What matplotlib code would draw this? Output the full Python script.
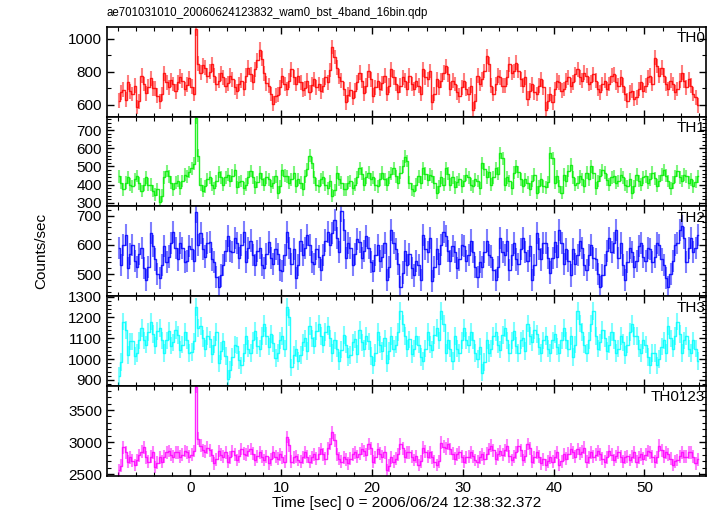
import numpy as np
import matplotlib
matplotlib.use('Agg')
import matplotlib.pyplot as plt
from matplotlib.ticker import MultipleLocator

plt.rcParams['font.family'] = ['Liberation Sans', 'DejaVu Sans']

# time bins (0.25 s), centre of first bin
t0 = -7.875
binw = 0.25

th0 = [625, 675, 690, 630, 735, 680, 665, 715,
       585, 620, 775, 725, 670, 710, 760, 700,
       700, 655, 620, 665, 790, 735, 705, 750,
       725, 680, 735, 770, 745, 695, 720, 760,
       710, 665, 1060, 850, 795, 840, 825, 775,
       800, 845, 775, 725, 745, 790, 765, 715,
       730, 775, 755, 705, 680, 725, 745, 695,
       775, 825, 785, 735, 815, 870, 935, 880,
       790, 730, 715, 665, 605, 655, 660, 705,
       775, 725, 695, 745, 815, 765, 725, 775,
       735, 690, 700, 745, 675, 720, 755, 705,
       725, 680, 715, 765, 735, 810, 950, 890,
       825, 770, 745, 695, 615, 660, 690, 640,
       685, 735, 795, 745, 670, 715, 805, 755,
       655, 705, 745, 695, 730, 775, 665, 715,
       815, 765, 725, 675, 715, 765, 745, 695,
       775, 725, 695, 745, 715, 665, 815, 765,
       755, 805, 615, 665, 755, 705, 745, 795,
       835, 785, 695, 745, 725, 675, 655, 705,
       745, 695, 665, 715, 570, 620, 775, 725,
       755, 805, 895, 845, 715, 665, 725, 775,
       765, 715, 715, 765, 845, 795, 805, 855,
       805, 755, 715, 765, 635, 685, 725, 675,
       665, 715, 755, 705, 570, 620, 665, 615,
       695, 745, 735, 685, 695, 745, 765, 715,
       735, 785, 815, 765, 745, 795, 775, 725,
       735, 785, 745, 695, 675, 725, 745, 695,
       725, 775, 785, 735, 715, 765, 715, 665,
       625, 675, 685, 635, 645, 695, 735, 685,
       715, 765, 775, 725, 885, 835, 775, 825,
       775, 725, 695, 745, 725, 675, 695, 745,
       795, 745, 705, 755, 715, 665, 645, 595]

th1 = [445, 410, 375, 410, 440, 400, 390, 430,
       448, 408, 365, 400, 440, 400, 400, 365,
       345, 375, 305, 340, 440, 475, 445, 410,
       375, 410, 420, 380, 420, 455, 445, 470,
       490, 515, 770, 560, 400, 365, 390, 430,
       440, 400, 380, 420, 470, 440, 400, 440,
       455, 420, 450, 480, 385, 415, 420, 380,
       400, 440, 475, 440, 385, 415, 465, 430,
       400, 440, 430, 390, 410, 445, 355, 390,
       480, 450, 445, 410, 430, 465, 390, 430,
       410, 375, 445, 485, 560, 520, 440, 400,
       390, 430, 440, 400, 380, 420, 340, 370,
       465, 430, 410, 375, 375, 410, 420, 380,
       400, 440, 490, 460, 400, 440, 465, 430,
       440, 400, 390, 430, 465, 430, 400, 440,
       460, 490, 445, 410, 465, 500, 555, 530,
       410, 375, 365, 400, 445, 410, 490, 460,
       425, 455, 445, 410, 355, 390, 440, 400,
       490, 460, 400, 440, 385, 415, 430, 390,
       420, 455, 440, 400, 390, 430, 420, 380,
       520, 485, 440, 470, 400, 440, 490, 460,
       575, 545, 400, 440, 420, 380, 465, 500,
       470, 430, 390, 430, 410, 375, 420, 455,
       355, 390, 430, 390, 385, 415, 575, 545,
       410, 445, 390, 355, 455, 420, 475, 510,
       440, 400, 410, 445, 430, 390, 465, 430,
       500, 465, 380, 420, 450, 480, 465, 425,
       400, 440, 445, 410, 420, 455, 440, 400,
       390, 430, 355, 390, 455, 420, 400, 440,
       445, 410, 430, 465, 435, 395, 420, 455,
       480, 450, 420, 380, 410, 445, 475, 440,
       420, 455, 445, 410, 430, 390, 415, 445]

th2 = [590, 530, 600, 635, 520, 570, 600, 545,
       525, 570, 590, 520, 480, 525, 640, 595,
       550, 500, 485, 530, 595, 540, 560, 605,
       645, 590, 550, 605, 590, 540, 545, 595,
       585, 545, 712, 600, 640, 585, 560, 605,
       610, 550, 540, 490, 455, 495, 530, 580,
       630, 580, 575, 625, 605, 555, 600, 645,
       540, 590, 615, 565, 530, 580, 590, 530,
       520, 570, 610, 555, 535, 585, 570, 515,
       510, 565, 645, 590, 535, 585, 485, 530,
       615, 565, 590, 635, 600, 540, 535, 585,
       560, 515, 565, 615, 645, 600, 640, 685,
       625, 575, 715, 650, 555, 605, 590, 530,
       570, 620, 610, 555, 580, 630, 590, 540,
       510, 565, 600, 545, 560, 605, 480, 525,
       650, 605, 585, 535, 455, 505, 580, 530,
       570, 520, 495, 545, 530, 480, 635, 585,
       575, 625, 475, 525, 585, 535, 600, 645,
       630, 580, 545, 595, 575, 520, 550, 600,
       595, 545, 565, 615, 575, 525, 490, 540,
       525, 575, 615, 565, 560, 515, 480, 525,
       625, 575, 565, 615, 515, 565, 605, 550,
       535, 585, 625, 575, 545, 595, 480, 530,
       640, 585, 550, 605, 605, 555, 505, 555,
       610, 560, 650, 605, 535, 585, 545, 495,
       585, 535, 565, 615, 590, 530, 515, 565,
       600, 555, 550, 500, 455, 495, 530, 580,
       625, 575, 605, 650, 555, 605, 530, 480,
       540, 590, 575, 525, 545, 595, 605, 560,
       545, 590, 585, 540, 560, 605, 600, 550,
       530, 485, 455, 500, 545, 600, 605, 650,
       665, 625, 540, 590, 625, 575, 590, 635]

th3 = [920, 985, 1180, 1140, 1020, 1085, 1085, 1015,
       1030, 1090, 1150, 1090, 1070, 1130, 1180, 1120,
       1065, 1135, 1150, 1090, 1030, 1090, 1135, 1065,
       1080, 1140, 1115, 1045, 1070, 1130, 1090, 1030,
       1035, 1085, 1250, 1150, 1160, 1100, 1050, 1110,
       1095, 1025, 1070, 1130, 980, 1040, 1085, 1015,
       905, 950, 1010, 1070, 1065, 995, 970, 1030,
       1110, 1050, 1030, 1090, 1135, 1065, 1050, 1110,
       1170, 1110, 1060, 1120, 1075, 1005, 1030, 1090,
       1110, 1050, 1250, 1200, 960, 1020, 1050, 990,
       1020, 1080, 1100, 1040, 1160, 1100, 1065, 1135,
       1170, 1110, 1070, 1130, 1160, 1100, 1030, 1090,
       1050, 990, 1045, 1115, 1070, 1010, 1020, 1080,
       1095, 1025, 1140, 1080, 1050, 1110, 1085, 1015,
       970, 1030, 1130, 1070, 1040, 1100, 980, 1040,
       1110, 1050, 1070, 1130, 1230, 1170, 1110, 1050,
       1095, 1025, 1050, 1110, 1070, 1010, 990, 1050,
       1130, 1070, 1045, 1115, 1150, 1090, 1230, 1170,
       1030, 1090, 1050, 990, 1110, 1050, 1030, 1090,
       1150, 1090, 1070, 1130, 1090, 1030, 1000, 1060,
       935, 985, 1090, 1030, 1050, 1110, 1130, 1070,
       1045, 1115, 1150, 1090, 1030, 1090, 1135, 1065,
       1030, 1090, 1100, 1040, 1170, 1110, 1080, 1140,
       1120, 1060, 1030, 1090, 1110, 1050, 1030, 1090,
       1120, 1060, 1030, 1090, 1150, 1090, 1050, 1110,
       1010, 1070, 1230, 1170, 1130, 1070, 1030, 1090,
       1170, 1230, 1110, 1050, 1080, 1140, 1100, 1040,
       1070, 1130, 1090, 1030, 1050, 1110, 1080, 1020,
       1070, 1130, 1170, 1110, 1110, 1050, 1030, 1090,
       1070, 1010, 970, 1030, 1030, 970, 1000, 1060,
       1090, 1030, 1160, 1100, 1050, 1110, 1180, 1120,
       1030, 1090, 1110, 1050, 1030, 1090, 1050, 990]

th0123 = [2560, 2630, 2920, 2840, 2690, 2760, 2710, 2640,
          2720, 2790, 2850, 2920, 2760, 2690, 2770, 2840,
          2610, 2680, 2760, 2690, 2770, 2840, 2860, 2800,
          2770, 2840, 2840, 2770, 2800, 2860, 2840, 2770,
          2800, 2860, 3860, 3050, 2940, 2870, 2850, 2910,
          2870, 2790, 2670, 2730, 2860, 2800, 2770, 2840,
          2690, 2760, 2860, 2800, 2720, 2780, 2890, 2820,
          2800, 2860, 2890, 2820, 2720, 2780, 2840, 2770,
          2720, 2780, 2670, 2730, 2840, 2770, 2740, 2810,
          2760, 2690, 3080, 2950, 2690, 2760, 2780, 2720,
          2690, 2760, 2840, 2770, 2690, 2760, 2810, 2740,
          2820, 2890, 2810, 2740, 2900, 2970, 3150, 3030,
          2810, 2740, 2690, 2760, 2730, 2670, 2740, 2810,
          2840, 2770, 2820, 2890, 2860, 2800, 2970, 2900,
          2690, 2760, 2890, 2820, 2770, 2840, 2560, 2630,
          2760, 2690, 2740, 2810, 2970, 2900, 2770, 2840,
          2840, 2770, 2720, 2780, 2640, 2700, 2910, 2850,
          2770, 2840, 2760, 2690, 2640, 2700, 2990, 2930,
          2900, 2970, 2890, 2820, 2740, 2810, 2840, 2770,
          2690, 2760, 2770, 2840, 2780, 2720, 2690, 2760,
          2810, 2740, 2820, 2890, 2940, 2870, 2740, 2810,
          2860, 2800, 2870, 2940, 2780, 2720, 2770, 2840,
          2940, 2870, 2720, 2780, 2970, 2900, 2690, 2760,
          2840, 2770, 2670, 2730, 2640, 2700, 2760, 2690,
          2770, 2840, 2640, 2700, 2810, 2740, 2820, 2890,
          2840, 2770, 2890, 2820, 2850, 2910, 2690, 2760,
          2840, 2770, 2800, 2860, 2810, 2740, 2690, 2760,
          2860, 2800, 2720, 2780, 2840, 2770, 2690, 2760,
          2780, 2720, 2770, 2840, 2690, 2760, 2810, 2740,
          2800, 2860, 2840, 2770, 2690, 2760, 2940, 2870,
          2770, 2840, 2810, 2740, 2640, 2700, 2720, 2780,
          2840, 2770, 2770, 2840, 2840, 2770, 2670, 2730]

# typical 1-sigma errors per band (counts/sec)
errors = [45, 35, 38, 42, 100]

series = [th0, th1, th2, th3, th0123]
labels = ["TH0", "TH1", "TH2", "TH3", "TH0123"]
colors = ["#ff0000", "#00ee00", "#0000ff", "#00ffff", "#ff00ff"]
ylims = [(527, 1073), (280, 775), (424, 732), (871, 1302), (2473, 3877)]
ymajor = [200, 100, 100, 100, 500]
yminor = [100, 20, 20, 20, 100]

fig = plt.figure(figsize=(7.17, 5.16), dpi=100)
gs = fig.add_gridspec(5, 1, left=0.149, right=0.985, top=0.948, bottom=0.078, hspace=0)

for k in range(5):
    ax = fig.add_subplot(gs[k])
    y = np.array(series[k], dtype=float)
    t = t0 + binw * np.arange(len(y))
    ax.errorbar(t, y, yerr=errors[k], fmt='none', ecolor=colors[k],
                elinewidth=1.5, alpha=0.5)
    ax.plot(t, y, drawstyle='steps-mid', color=colors[k], lw=1.0, alpha=0.85)
    ax.set_xlim(-9.2, 56.8)
    ax.set_ylim(*ylims[k])
    ax.xaxis.set_major_locator(MultipleLocator(10))
    ax.xaxis.set_minor_locator(MultipleLocator(2))
    ax.yaxis.set_major_locator(MultipleLocator(ymajor[k]))
    ax.yaxis.set_minor_locator(MultipleLocator(yminor[k]))
    ax.tick_params(which='both', direction='in', top=True, right=True, labelsize=11)
    ax.tick_params(which='major', length=5, width=1)
    ax.tick_params(which='minor', length=3, width=0.8)
    for s in ax.spines.values():
        s.set_linewidth(1.2)
    ax.text(0.998, 0.95, labels[k], transform=ax.transAxes, ha='right', va='top', fontsize=11)
    if k < 4:
        ax.tick_params(labelbottom=False)
    else:
        ax.set_xlabel("Time [sec] 0 = 2006/06/24 12:38:32.372", fontsize=11, labelpad=1)

fig.text(0.149, 0.975, "ae701031010_20060624123832_wam0_bst_4band_16bin.qdp",
         ha='left', va='center', fontsize=8.3)
fig.text(0.058, 0.513, "Counts/sec", rotation=90, ha='center', va='center', fontsize=11)

fig.savefig("out.png", dpi=100)
